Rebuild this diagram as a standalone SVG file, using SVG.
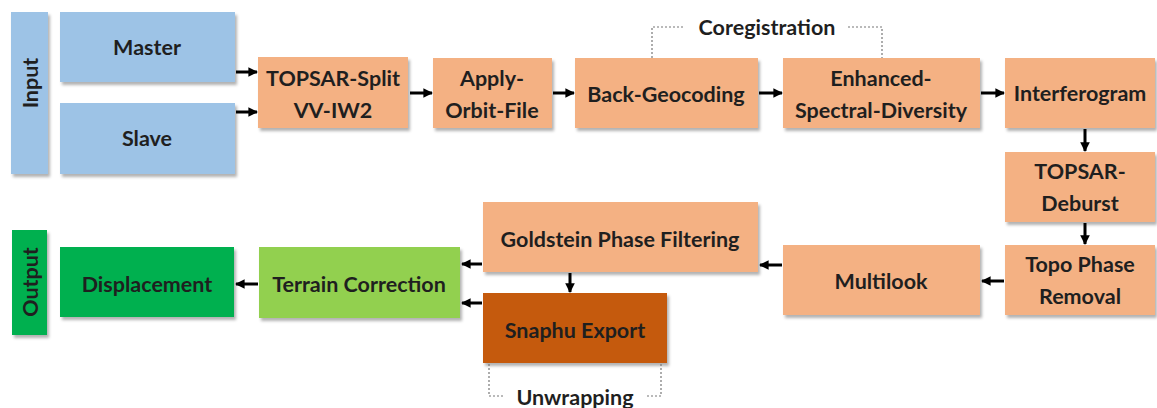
<svg xmlns="http://www.w3.org/2000/svg" width="1157" height="408" viewBox="0 0 1157 408">
  <style>
    .box { filter: url(#shadow); }
    .blue { fill: #9DC3E6; }
    .orange { fill: #F4B183; }
    .dark-orange { fill: #C55A11; }
    .light-green { fill: #92D050; }
    .green { fill: #00B050; }
    .label { font-family: Lato, "Open Sans", sans-serif; font-weight: bold; font-size: 21.5px; fill: #1f1f1f; text-anchor: middle; dominant-baseline: central; }
    .edge { stroke: #000; stroke-width: 3; fill: none; marker-end: url(#arrow); }
    .bracket { stroke: #777; stroke-width: 1.2; stroke-dasharray: 2 2; fill: none; }
  </style>
  <defs>
    <filter id="shadow" x="-10%" y="-10%" width="125%" height="130%">
      <feDropShadow dx="2" dy="3" stdDeviation="1.5" flood-color="#000" flood-opacity="0.3"/>
    </filter>
    <marker id="arrow" viewBox="0 0 10 10" refX="9" refY="5" markerWidth="3.2" markerHeight="3.2" orient="auto" markerUnits="strokeWidth">
      <path d="M0,0 L10,5 L0,10 z" fill="#000"/>
    </marker>
  </defs>
  <rect width="1157" height="408" fill="#fff"/>

  <!-- Group labels -->
  <g id="input">
    <rect class="box blue" x="11" y="12" width="37" height="162"/>
    <text class="label" transform="translate(30,83) rotate(-90)">Input</text>
  </g>
  <g id="output">
    <rect class="box green" x="12" y="230" width="35" height="105"/>
    <text class="label" transform="translate(30,282) rotate(-90)">Output</text>
  </g>

  <!-- Processing nodes -->
  <g id="master">
    <rect class="box blue" x="60" y="12" width="175" height="70"/>
    <text class="label" x="147" y="47">Master</text>
  </g>
  <g id="slave">
    <rect class="box blue" x="60" y="103" width="175" height="71"/>
    <text class="label" x="147" y="138">Slave</text>
  </g>
  <g id="topsar-split">
    <rect class="box orange" x="258" y="57" width="150" height="71"/>
    <text class="label" x="333" y="78">TOPSAR-Split</text>
    <text class="label" x="333" y="110">VV-IW2</text>
  </g>
  <g id="apply-orbit">
    <rect class="box orange" x="433" y="58" width="119" height="70"/>
    <text class="label" x="492" y="78">Apply-</text>
    <text class="label" x="492" y="110">Orbit-File</text>
  </g>
  <g id="back-geocoding">
    <rect class="box orange" x="575" y="58" width="183" height="70"/>
    <text class="label" x="666" y="94">Back-Geocoding</text>
  </g>
  <g id="esd">
    <rect class="box orange" x="783" y="58" width="197" height="70"/>
    <text class="label" x="881" y="78">Enhanced-</text>
    <text class="label" x="881" y="110">Spectral-Diversity</text>
  </g>
  <g id="interferogram">
    <rect class="box orange" x="1005" y="58" width="150" height="70"/>
    <text class="label" x="1080" y="93">Interferogram</text>
  </g>
  <g id="deburst">
    <rect class="box orange" x="1005" y="152" width="150" height="70"/>
    <text class="label" x="1080" y="171">TOPSAR-</text>
    <text class="label" x="1080" y="203">Deburst</text>
  </g>
  <g id="topo-phase">
    <rect class="box orange" x="1005" y="245" width="150" height="70"/>
    <text class="label" x="1080" y="264">Topo Phase</text>
    <text class="label" x="1080" y="296">Removal</text>
  </g>
  <g id="multilook">
    <rect class="box orange" x="783" y="245" width="197" height="70"/>
    <text class="label" x="881" y="281">Multilook</text>
  </g>
  <g id="goldstein">
    <rect class="box orange" x="483" y="202" width="275" height="70"/>
    <text class="label" x="620" y="239">Goldstein Phase Filtering</text>
  </g>
  <g id="snaphu">
    <rect class="box dark-orange" x="483" y="293" width="184" height="70"/>
    <text class="label" x="575" y="330">Snaphu Export</text>
  </g>
  <g id="terrain">
    <rect class="box light-green" x="259" y="247" width="201" height="71"/>
    <text class="label" x="359" y="284">Terrain Correction</text>
  </g>
  <g id="displacement">
    <rect class="box green" x="60" y="247" width="174" height="70"/>
    <text class="label" x="147" y="284">Displacement</text>
  </g>

  <!-- Stage brackets -->
  <g id="coregistration">
    <path class="bracket" d="M652,58 V27 H684"/>
    <path class="bracket" d="M848,27 H882 V58"/>
    <text class="label" x="767" y="27">Coregistration</text>
  </g>
  <g id="unwrapping">
    <path class="bracket" d="M489,364 V396 H505"/>
    <path class="bracket" d="M661,364 V396 H645"/>
    <text class="label" x="575" y="397">Unwrapping</text>
  </g>

  <!-- Connectors -->
  <g id="connectors">
    <path class="edge" d="M236,72 H257"/>
    <path class="edge" d="M236,112 H257"/>
    <path class="edge" d="M410,93 H432"/>
    <path class="edge" d="M553,93 H574"/>
    <path class="edge" d="M759,93 H782"/>
    <path class="edge" d="M981,93 H1004"/>
    <path class="edge" d="M1085,129 V151"/>
    <path class="edge" d="M1085,223 V244"/>
    <path class="edge" d="M1004,281 H982"/>
    <path class="edge" d="M782,265 H760"/>
    <path class="edge" d="M570,273 V292"/>
    <path class="edge" d="M482,264 H462"/>
    <path class="edge" d="M482,303 H462"/>
    <path class="edge" d="M258,284 H236"/>
  </g>
</svg>
